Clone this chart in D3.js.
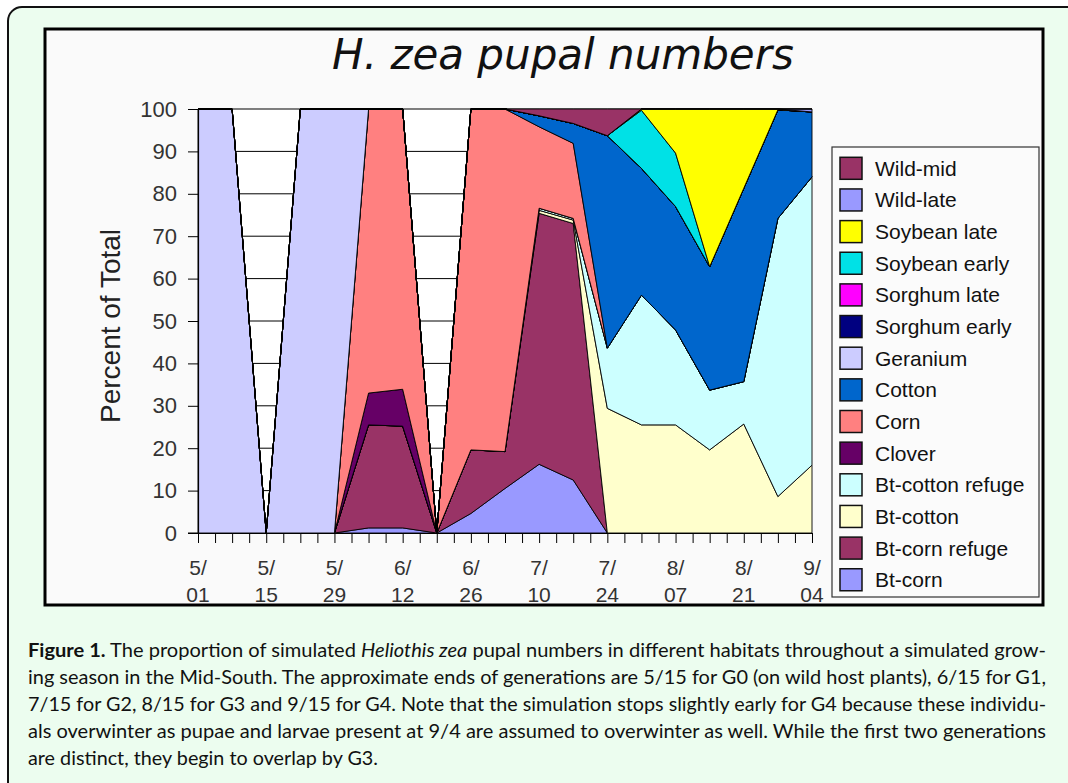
<!DOCTYPE html>
<html><head><meta charset="utf-8">
<script src="https://cdn.jsdelivr.net/npm/d3@7"></script>
<style>
html,body{margin:0;padding:0;background:#fff;}
svg{display:block;}
</style></head>
<body>
<svg id="chart" width="1068" height="783"></svg>
<script>
// ---- data ----
const dates = ["5/01","5/08","5/15","5/22","5/29","6/05","6/12","6/19","6/26","7/03","7/10","7/17","7/24","7/31","8/07","8/14","8/21","8/28","9/04"];
const yTicks = [0,10,20,30,40,50,60,70,80,90,100];
const seriesNames = ["Bt-corn","Bt-corn refuge","Bt-cotton","Bt-cotton refuge","Clover","Corn","Cotton","Geranium","Sorghum early","Sorghum late","Soybean early","Soybean late","Wild-late","Wild-mid"];
const seriesColors = ["#9999ff","#993366","#ffffcc","#ccffff","#660066","#ff8080","#0066cc","#ccccff","#000080","#ff00ff","#00e1e6","#ffff00","#9999ff","#993366"];

const btCorn         = [0,0,0,0,0, 1.2,1.2, 0, 4.6,10.5,16.2,12.5, 0,0,0,0,0,0,0];
const btCornRefuge   = [0,0,0,0,0, 24.3,24.0, 0, 15.0,8.7,59.2,60.5, 0,0,0,0,0,0,0];
const btCotton       = [0,0,0,0,0, 0,0, 0, 0,0,0.7,0.8, 29.4,25.5,25.5,19.6,25.7,8.6,16.0];
const btCottonRefuge = [0,0,0,0,0, 0,0, 0, 0,0,0.5,0.4, 14.2,30.6,22.4,14.1,10.0,65.6,68.0];
const clover         = [0,0,0,0,0, 7.5,8.7, 0, 0,0,0,0, 0,0,0,0,0,0,0];
const corn           = [0,0,0,0,0, 67.0,66.1, 0, 80.4,80.8,19.2,17.7, 0,0,0,0,0,0,0];
const cotton         = [0,0,0,0,0, 0,0, 0, 0,0,2.6,4.7, 50.1,29.9,29.1,29.1,45.6,25.6,15.3];
const geranium       = [100,100,0,100,100, 0,0, 0, 0,0,0,0, 0,0,0,0,0,0,0];
const sorghumEarly   = [0,0,0,0,0, 0,0, 0, 0,0,0,0, 0,0,0,0,0,0,0];
const sorghumLate    = [0,0,0,0,0, 0,0, 0, 0,0,0,0, 0,0,0,0,0,0,0];
const soybeanEarly   = [0,0,0,0,0, 0,0, 0, 0,0,0,0, 0,13.7,12.6,0,0,0,0];
const soybeanLate    = [0,0,0,0,0, 0,0, 0, 0,0,0,0, 0,0.3,10.4,37.2,18.7,0.2,0];
const wildLate       = [0,0,0,0,0, 0,0, 0, 0,0,0,0, 0,0,0,0,0,0,0.7];
const wildMid        = [0,0,0,0,0, 0,0, 0, 0,0,1.6,3.4, 6.3,0,0,0,0,0,0];

const seriesValues = [btCorn,btCornRefuge,btCotton,btCottonRefuge,clover,corn,cotton,geranium,sorghumEarly,sorghumLate,soybeanEarly,soybeanLate,wildLate,wildMid];

const captionLines = [
  [["b","Figure 1."],["n"," The proportion of simulated "],["i","Heliothis zea"],["n"," pupal numbers in different habitats throughout a simulated grow-"]],
  [["n","ing season in the Mid-South. The approximate ends of generations are 5/15 for G0 (on wild host plants), 6/15 for G1,"]],
  [["n","7/15 for G2, 8/15 for G3 and 9/15 for G4. Note that the simulation stops slightly early for G4 because these individu-"]],
  [["n","als overwinter as pupae and larvae present at 9/4 are assumed to overwinter as well. While the first two generations"]],
  [["n","are distinct, they begin to overlap by G3."]]
];

// ---- build table ----
const table = dates.map((d,i)=>{
  const row = {date:d, idx:i};
  seriesNames.forEach((n,k)=>{ row[n] = seriesValues[k][i]; });
  return row;
});

const svg = d3.select("#chart");

// outer panel
svg.append("rect").attr("x",8).attr("y",7).attr("width",1100).attr("height",840)
  .attr("rx",14).attr("fill","#ecfdef").attr("stroke","#111").attr("stroke-width",2);

// chart box
svg.append("rect").attr("x",45).attr("y",29).attr("width",998).attr("height",576)
  .attr("fill","#fafafa").attr("stroke","#000").attr("stroke-width",3);

// title
svg.append("text").attr("x",563).attr("y",69).attr("text-anchor","middle")
  .attr("font-family","DejaVu Sans").attr("font-style","italic").attr("font-size",42)
  .attr("fill","#111").text("H. zea pupal numbers");

const x = d3.scaleLinear().domain([0, dates.length-1]).range([198, 812]);
const y = d3.scaleLinear().domain([0, 100]).range([533, 109]);

// plot background
svg.append("rect").attr("x",x(0)).attr("y",y(100)).attr("width",x(dates.length-1)-x(0)).attr("height",y(0)-y(100)).attr("fill","#fff");

// gridlines
svg.append("g").selectAll("line").data(yTicks.filter(t=>t>0)).join("line")
  .attr("x1",x(0)).attr("x2",x(dates.length-1)).attr("y1",d=>y(d)).attr("y2",d=>y(d))
  .attr("stroke","#000").attr("stroke-width",1);

// stacked areas
const stack = d3.stack().keys(seriesNames);
const layers = stack(table);
const area = d3.area().x((d,i)=>x(i)).y0(d=>y(d[0])).y1(d=>y(d[1]));
svg.append("g").selectAll("path").data(layers).join("path")
  .attr("d",area).attr("fill",(d,i)=>seriesColors[i])
  .attr("stroke","#000").attr("stroke-width",0.9).attr("stroke-linejoin","round");

// y axis
const yAxis = svg.append("g").attr("transform",`translate(${x(0)},0)`)
  .call(d3.axisLeft(y).tickValues(yTicks).tickSize(10).tickPadding(11));
yAxis.select(".domain").attr("stroke","#000").attr("stroke-width",1.2);
yAxis.selectAll(".tick line").attr("stroke","#000");
yAxis.selectAll("text").attr("font-family","Liberation Sans").attr("font-size",22).attr("fill","#333");

// x axis
const halfTicks = d3.range(0, dates.length-0.999, 0.5);
const xAxis = svg.append("g").attr("transform",`translate(0,${y(0)})`)
  .call(d3.axisBottom(x).tickValues(halfTicks).tickSize(10).tickSizeOuter(0).tickFormat(""));
xAxis.select(".domain").attr("stroke","#000").attr("stroke-width",1.2);
xAxis.selectAll(".tick line").attr("stroke","#000");
svg.append("line").attr("x1",x(0)-10).attr("x2",x(0)).attr("y1",y(0)).attr("y2",y(0)).attr("stroke","#000");

const labelIdx = dates.map((d,i)=>i).filter(i=>i%2===0);
const xl = svg.append("g").selectAll("text").data(labelIdx).join("text")
  .attr("x",i=>x(i)).attr("y",575).attr("text-anchor","middle")
  .attr("font-family","Liberation Sans").attr("font-size",21).attr("fill","#333");
xl.append("tspan").attr("x",i=>x(i)).text(i=>dates[i].split("/")[0]+"/");
xl.append("tspan").attr("x",i=>x(i)).attr("dy",27).text(i=>dates[i].split("/")[1]);

// y axis title
svg.append("text").attr("transform","translate(120,326) rotate(-90)").attr("text-anchor","middle")
  .attr("font-family","Liberation Sans").attr("font-size",28).attr("fill","#222").text("Percent of Total");

// legend
const legend = svg.append("g");
legend.append("rect").attr("x",832).attr("y",147).attr("width",207).attr("height",450)
  .attr("fill","#fbfbfb").attr("stroke","#333").attr("stroke-width",1.2);
const legOrder = seriesNames.map((n,i)=>i).reverse();
const li = legend.selectAll("g.item").data(legOrder).join("g").attr("class","item")
  .attr("transform",(d,k)=>`translate(0,${168.3 + k*31.65})`);
li.append("rect").attr("x",840).attr("y",-11).attr("width",22).attr("height",22)
  .attr("fill",i=>seriesColors[i]).attr("stroke","#111").attr("stroke-width",1.5);
li.append("text").attr("x",875).attr("y",7.5).attr("font-family","Liberation Sans").attr("font-size",21)
  .attr("fill","#111").text(i=>seriesNames[i]);

// caption
const cap = svg.append("g");
captionLines.forEach((parts,k)=>{
  const t = cap.append("text").attr("x",28).attr("y",657 + k*27)
    .attr("font-family","Lato").attr("font-size",19).attr("fill","#111")
    .attr("textLength", k<4 ? 1018 : 350).attr("lengthAdjust","spacingAndGlyphs");
  parts.forEach(([s,txt])=>{
    const ts = t.append("tspan").text(txt);
    if(s==="b") ts.attr("font-weight","bold");
    if(s==="i") ts.attr("font-style","italic");
  });
});
</script>
</body></html>
